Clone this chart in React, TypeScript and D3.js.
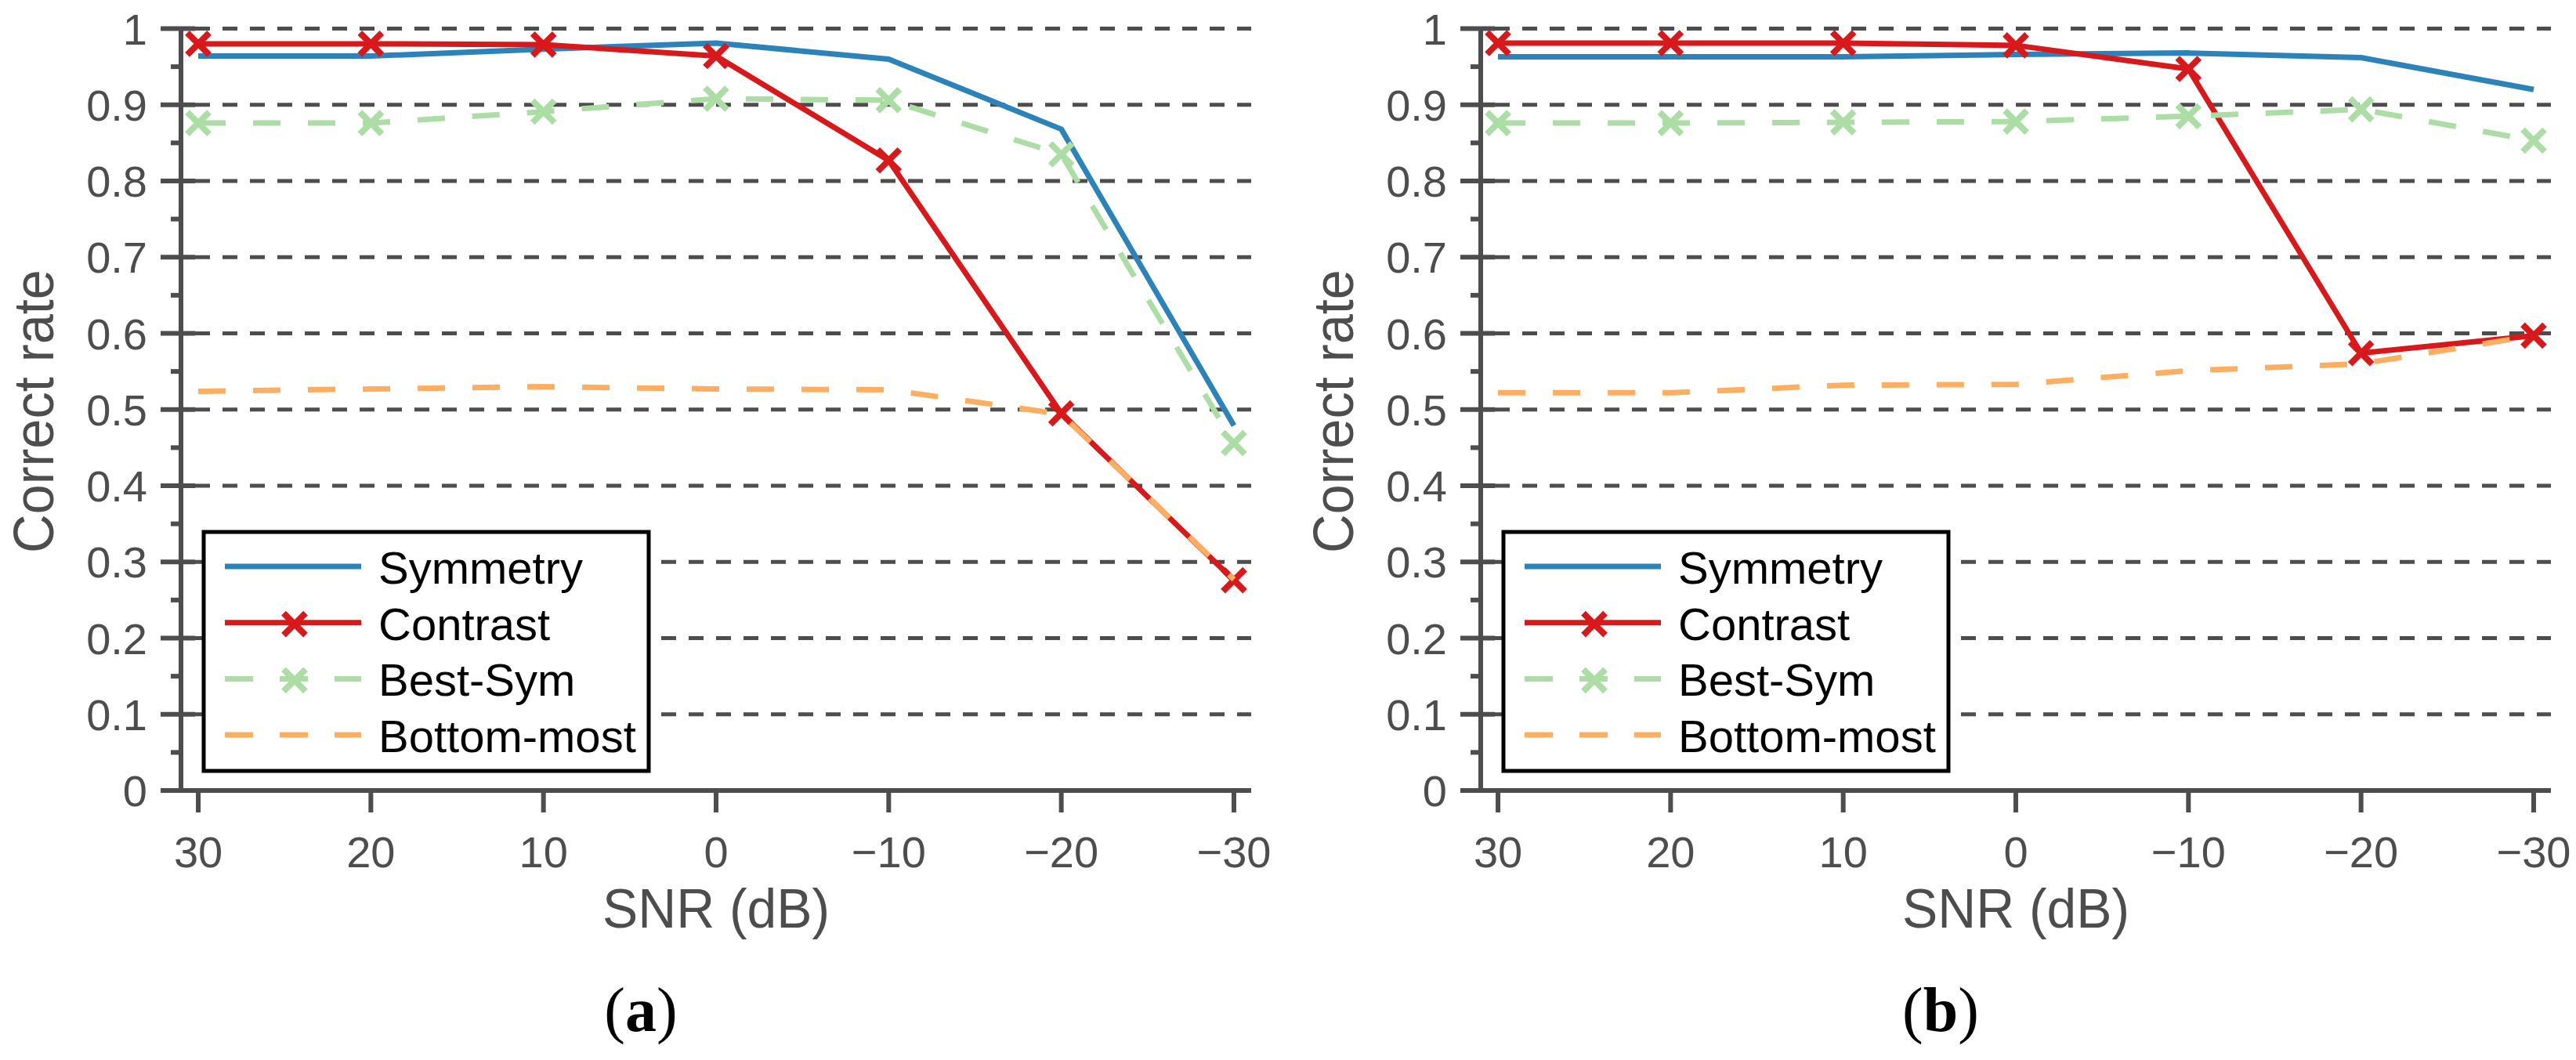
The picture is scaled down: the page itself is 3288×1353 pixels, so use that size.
import { useEffect, useRef } from "react";
import * as d3 from "d3";

const width = 3288;
const height = 1353;

// SNR steps (dB), left to right
const snr = [30, 20, 10, 0, -10, -20, -30];
const xTickLabels = ["30", "20", "10", "0", "\u221210", "\u221220", "\u221230"];
const yTicks = [0, 0.1, 0.2, 0.3, 0.4, 0.5, 0.6, 0.7, 0.8, 0.9, 1];
const yTickLabels = ["0", "0.1", "0.2", "0.3", "0.4", "0.5", "0.6", "0.7", "0.8", "0.9", "1"];
const seriesNames = ["Symmetry", "Contrast", "Best-Sym", "Bottom-most"];

// panel (a)
const symmetryA = [0.964, 0.964, 0.973, 0.981, 0.960, 0.868, 0.479];
const contrastA = [0.980, 0.980, 0.979, 0.964, 0.827, 0.495, 0.276];
const bestSymA = [0.876, 0.876, 0.891, 0.908, 0.906, 0.835, 0.456];
const bottomA = [0.524, 0.527, 0.530, 0.527, 0.526, 0.494, 0.277];

// panel (b)
const symmetryB = [0.963, 0.963, 0.963, 0.966, 0.968, 0.962, 0.920];
const contrastB = [0.981, 0.981, 0.981, 0.978, 0.947, 0.574, 0.597];
const bestSymB = [0.876, 0.876, 0.877, 0.878, 0.885, 0.894, 0.853];
const bottomB = [0.522, 0.522, 0.532, 0.533, 0.551, 0.560, 0.597];

const styles = [
    { color: "#2b83ba", dash: null as string | null, marker: false },
    { color: "#d7191c", dash: null as string | null, marker: true },
    { color: "#abdda4", dash: "35,35", marker: true },
    { color: "#fdae61", dash: "35,35", marker: false },
];

const axisColor = "#4d4d4d";
const sans = "'Liberation Sans', Arial, Helvetica, sans-serif";
const serif = "'Liberation Serif', 'Times New Roman', serif";

const xMark = (cx: number, cy: number, r = 14) => {
    const p = d3.path();
    p.moveTo(cx - r, cy - r); p.lineTo(cx + r, cy + r);
    p.moveTo(cx - r, cy + r); p.lineTo(cx + r, cy - r);
    return p.toString();
};

function drawPanel(svg: any, shift: number, series: number[][], caption: string) {
    const left = 231 + shift;
    const right = 1597 + shift;
    const top = 36.5;
    const bottom = 1009;

    const x = d3.scaleLinear().domain([31, -31]).range([left, right]);
    const y = d3.scaleLinear().domain([0, 1]).range([bottom, top]);

    const g = svg.append("g");

    // dashed horizontal grid
    g.selectAll(".grid")
        .data(yTicks.filter(d => d > 0))
        .enter().append("line")
            .attr("x1", left + 18).attr("x2", right)
            .attr("y1", (d: number) => y(d)).attr("y2", (d: number) => y(d))
            .attr("stroke", axisColor)
            .attr("stroke-width", 5)
            .attr("stroke-dasharray", "19,16");

    // axes
    g.append("line")
        .attr("x1", left).attr("x2", left).attr("y1", top - 2).attr("y2", bottom + 3)
        .attr("stroke", axisColor).attr("stroke-width", 6);
    g.append("line")
        .attr("x1", left - 26).attr("x2", right).attr("y1", bottom).attr("y2", bottom)
        .attr("stroke", axisColor).attr("stroke-width", 6);

    // y ticks
    g.selectAll(".ytick")
        .data(yTicks)
        .enter().append("line")
            .attr("x1", left - 26).attr("x2", left + 18)
            .attr("y1", (d: number) => y(d)).attr("y2", (d: number) => y(d))
            .attr("stroke", axisColor).attr("stroke-width", 6);
    g.selectAll(".yminor")
        .data(d3.range(0.05, 1, 0.1))
        .enter().append("line")
            .attr("x1", left - 13).attr("x2", left)
            .attr("y1", (d: number) => y(d)).attr("y2", (d: number) => y(d))
            .attr("stroke", axisColor).attr("stroke-width", 6);
    g.selectAll(".ylabel")
        .data(yTicks)
        .enter().append("text")
            .attr("x", left - 43)
            .attr("y", (d: number) => y(d))
            .attr("dy", "0.36em")
            .attr("text-anchor", "end")
            .attr("font-family", sans).attr("font-size", 56)
            .attr("fill", axisColor)
            .text((_: number, i: number) => yTickLabels[i]);

    // x ticks
    g.selectAll(".xtick")
        .data(snr)
        .enter().append("line")
            .attr("x1", (d: number) => x(d)).attr("x2", (d: number) => x(d))
            .attr("y1", bottom).attr("y2", bottom + 28)
            .attr("stroke", axisColor).attr("stroke-width", 6);
    g.selectAll(".xlabel")
        .data(snr)
        .enter().append("text")
            .attr("x", (d: number) => x(d))
            .attr("y", 1107)
            .attr("text-anchor", "middle")
            .attr("font-family", sans).attr("font-size", 56)
            .attr("fill", axisColor)
            .text((_: number, i: number) => xTickLabels[i]);

    // axis titles
    g.append("text")
        .attr("x", (left + right) / 2).attr("y", 1184)
        .attr("text-anchor", "middle")
        .attr("font-family", sans).attr("font-size", 71)
        .attr("textLength", 290).attr("lengthAdjust", "spacingAndGlyphs")
        .attr("fill", axisColor)
        .text("SNR (dB)");
    g.append("text")
        .attr("transform", `translate(${68 + shift},${525}) rotate(-90)`)
        .attr("text-anchor", "middle")
        .attr("font-family", sans).attr("font-size", 73)
        .attr("textLength", 362).attr("lengthAdjust", "spacingAndGlyphs")
        .attr("fill", axisColor)
        .text("Correct rate");

    // series
    const line = d3.line<number>()
        .x((_, i) => x(snr[i]))
        .y(d => y(d));

    series.forEach((vals, k) => {
        const st = styles[k];
        g.append("path")
            .attr("d", line(vals))
            .attr("fill", "none")
            .attr("stroke", st.color)
            .attr("stroke-width", 7)
            .attr("stroke-linejoin", "round")
            .attr("stroke-dasharray", st.dash);
        if (st.marker) {
            g.selectAll(null)
                .data(vals)
                .enter().append("path")
                    .attr("d", (d: number, i: number) => xMark(x(snr[i]), y(d)))
                    .attr("stroke", st.color)
                    .attr("stroke-width", 8)
                    .attr("fill", "none");
        }
    });

    // legend
    const lx = 260 + shift, ly = 679, lw = 568, lh = 305;
    g.append("rect")
        .attr("x", lx).attr("y", ly).attr("width", lw).attr("height", lh)
        .attr("fill", "white").attr("stroke", "black").attr("stroke-width", 5);
    seriesNames.forEach((name, k) => {
        const st = styles[k];
        const yy = 723 + k * 71.7;
        g.append("line")
            .attr("x1", lx + 27).attr("x2", lx + 201)
            .attr("y1", yy).attr("y2", yy)
            .attr("stroke", st.color).attr("stroke-width", 7)
            .attr("stroke-dasharray", st.dash ? "36,34" : null);
        if (st.marker) {
            g.append("path")
                .attr("d", xMark(lx + 116, yy + 2))
                .attr("stroke", st.color).attr("stroke-width", 8).attr("fill", "none");
        }
        g.append("text")
            .attr("x", lx + 223).attr("y", yy + 22)
            .attr("font-family", sans).attr("font-size", 58)
            .attr("fill", "black")
            .text(name);
    });

    // panel caption
    const cap = g.append("text")
        .attr("x", 818 + shift).attr("y", 1316)
        .attr("text-anchor", "middle")
        .attr("font-family", serif).attr("font-size", 80)
        .attr("fill", "black");
    cap.append("tspan").text("(");
    cap.append("tspan").attr("font-weight", "bold").text(caption);
    cap.append("tspan").text(")");
}

export default function App() {
    const ref = useRef<SVGSVGElement>(null);

    useEffect(() => {
        const svg = d3.select(ref.current);
        svg.selectAll("*").remove();
        drawPanel(svg, 0, [symmetryA, contrastA, bestSymA, bottomA], "a");
        drawPanel(svg, 1659, [symmetryB, contrastB, bestSymB, bottomB], "b");
        return () => {
            d3.select(ref.current).selectAll("*").remove();
        };
    }, [ref]);

    return (
        <svg
            ref={ref}
            width={width}
            height={height}
            viewBox={`0 0 ${width} ${height}`}
            style={{ position: "absolute", left: 0, top: 0, background: "white" }}
        />
    );
}
